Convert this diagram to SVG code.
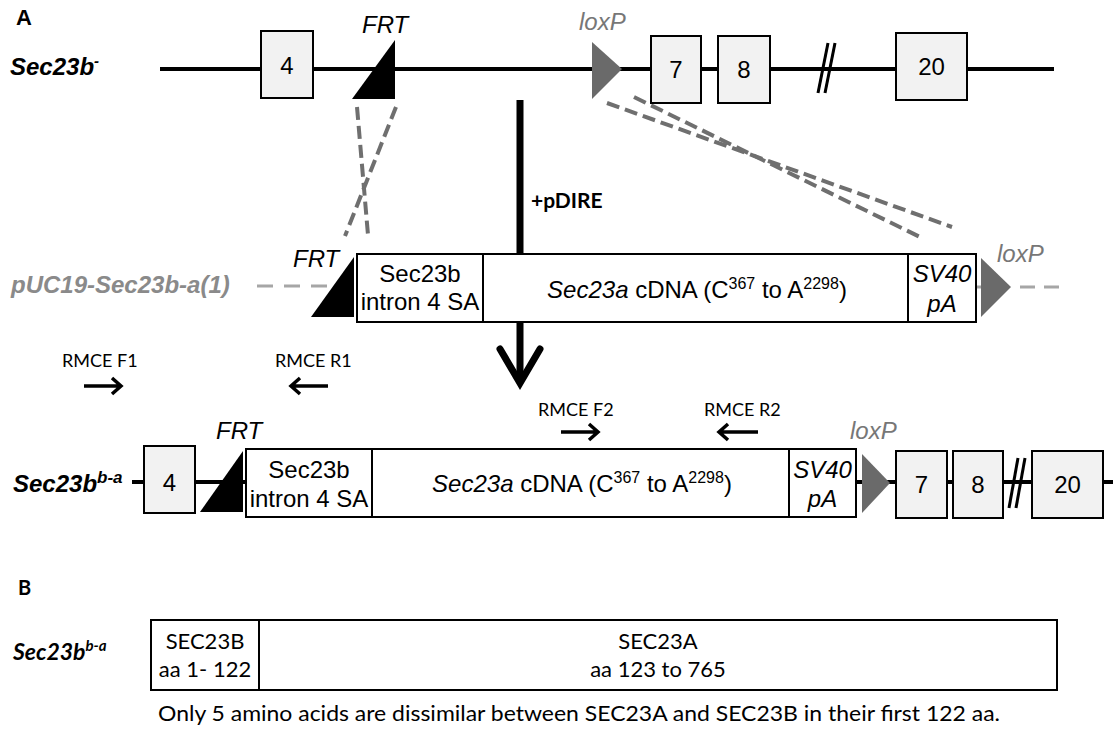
<svg xmlns="http://www.w3.org/2000/svg" width="1113" height="732" viewBox="0 0 1113 732">
<defs>
<style>
.ar{font-family:"Liberation Sans",Arial,sans-serif;fill:#000}
.cal{font-family:Lato,"Open Sans",sans-serif;fill:#000}
.exon{fill:#f2f2f2;stroke:#000;stroke-width:2}
.box{fill:#fff;stroke:#000;stroke-width:2}
.bb{stroke:#000;stroke-width:4;fill:none}
.dash{stroke:#6f6f6f;stroke-width:4;fill:none;stroke-dasharray:13 6}
.pdash{stroke:#a6a6a6;stroke-width:3;fill:none;stroke-dasharray:16 11}
.lox{fill:#6a6a6a}
.loxt{fill:#777;font-style:italic}
.prm{stroke:#000;stroke-width:3.5;fill:none;stroke-linecap:butt;stroke-linejoin:miter}
.t24{font-size:24px}
.lbl{font-size:24px;font-weight:bold;font-style:italic}
</style>
</defs>
<rect width="1113" height="732" fill="#fff"/>

<!-- backbones -->
<g id="backbones">
<line class="bb" x1="160" y1="69" x2="1054" y2="69"/>
<line class="pdash" x1="257" y1="286" x2="352" y2="286"/>
<line x1="976" y1="287" x2="982" y2="287" stroke="#a6a6a6" stroke-width="3"/>
<line class="pdash" x1="1020" y1="287" x2="1060" y2="287" style="stroke-dasharray:15 9"/>
<line class="bb" x1="132" y1="482" x2="1113" y2="482"/>
</g>

<!-- connectors -->
<g id="connectors">
<line class="dash" x1="357" y1="107" x2="368" y2="235"/>
<line class="dash" x1="396" y1="107" x2="345" y2="236"/>
<line class="dash" x1="607" y1="103" x2="952" y2="227"/>
<line class="dash" x1="634" y1="97" x2="920" y2="237"/>
<line x1="520" y1="100" x2="520" y2="380" stroke="#000" stroke-width="7"/>
<path d="M500,349 L520,383 L540,349" fill="none" stroke="#000" stroke-width="7" stroke-linecap="round" stroke-linejoin="miter"/>
<text class="cal" x="531" y="208" font-size="21" font-weight="bold">+pDIRE</text>
</g>

<!-- labels -->
<g id="labels">
<text class="ar" x="16" y="25" font-size="22" font-weight="bold">A</text>
<text class="ar lbl" x="10" y="75">Sec23b<tspan dy="-9" font-size="15">-</tspan></text>
<text class="ar lbl" x="11" y="293" fill="#8a8a8a" style="fill:#8a8a8a">pUC19-Sec23b-a(1)</text>
<text class="ar lbl" x="13" y="492">Sec23b<tspan dy="-9" font-size="17">b-a</tspan></text>
<text class="cal" x="18" y="595" font-size="20" font-weight="bold">B</text>
<text class="cal" x="13" y="660" font-size="23" font-weight="bold" font-style="italic">Sec23b<tspan dy="-9" font-size="15">b-a</tspan></text>
</g>

<!-- top allele -->
<g id="exon4-top"><rect class="exon" x="261" y="31" width="52" height="67"/><text class="ar t24" x="287" y="74" text-anchor="middle">4</text></g>
<g id="frt-top"><polygon points="395,40 395,99 352,99" fill="#000"/><text class="ar t24" x="362" y="33" font-style="italic">FRT</text></g>
<g id="loxp-top"><polygon class="lox" points="592,42 592,99 622,69"/><text class="ar t24 loxt" x="579" y="30">loxP</text></g>
<g id="exon7-top"><rect class="exon" x="651" y="36" width="50" height="67"/><text class="ar t24" x="676" y="78" text-anchor="middle">7</text></g>
<g id="exon8-top"><rect class="exon" x="718" y="36" width="52" height="67"/><text class="ar t24" x="744" y="78" text-anchor="middle">8</text></g>
<g id="break-top"><line x1="818" y1="93" x2="828" y2="43" stroke="#000" stroke-width="3"/><line x1="825" y1="93" x2="835" y2="43" stroke="#000" stroke-width="3"/></g>
<g id="exon20-top"><rect class="exon" x="896" y="33" width="71" height="67"/><text class="ar t24" x="931.5" y="75" text-anchor="middle">20</text></g>

<!-- pUC19 construct -->
<g id="frt-puc"><polygon points="354,257 354,317 311,317" fill="#000"/><text class="ar t24" x="293" y="267" font-style="italic">FRT</text></g>
<g id="sa-puc"><rect class="box" x="357" y="254" width="126" height="68"/><text class="ar t24" x="420" y="282" text-anchor="middle">Sec23b</text><text class="ar t24" x="420" y="310" text-anchor="middle">intron 4 SA</text></g>
<g id="cdna-puc"><rect class="box" x="483" y="254" width="425" height="68"/><text class="ar t24" x="697" y="298" text-anchor="middle"><tspan font-style="italic">Sec23a</tspan> cDNA (C<tspan dy="-9" font-size="16">367</tspan><tspan dy="9"> to A</tspan><tspan dy="-9" font-size="16">2298</tspan><tspan dy="9">)</tspan></text></g>
<g id="sv40-puc"><rect class="box" x="908" y="254" width="68" height="68"/><text class="ar t24" x="942" y="282" text-anchor="middle" font-style="italic">SV40</text><text class="ar t24" x="942" y="312" text-anchor="middle" font-style="italic">pA</text></g>
<g id="loxp-puc"><polygon class="lox" points="981,258 981,317 1011,287"/><text class="ar t24 loxt" x="997" y="262">loxP</text></g>

<!-- primers -->
<g id="primer-f1"><text class="cal" x="62" y="367" font-size="18">RMCE F1</text><path class="prm" d="M84,386 H121 M112,378 L121,386 L112,394"/></g>
<g id="primer-r1"><text class="cal" x="275" y="367" font-size="18">RMCE R1</text><path class="prm" d="M328,386 H291 M300,378 L291,386 L300,394"/></g>
<g id="primer-f2"><text class="cal" x="538" y="416" font-size="18">RMCE F2</text><path class="prm" d="M561,432 H598 M589,424 L598,432 L589,440"/></g>
<g id="primer-r2"><text class="cal" x="704" y="416" font-size="18">RMCE R2</text><path class="prm" d="M758,432 H719 M728,424 L719,432 L728,440"/></g>

<!-- recombined allele -->
<g id="exon4-ba"><rect class="exon" x="144" y="446" width="51" height="67"/><text class="ar t24" x="169.5" y="491" text-anchor="middle">4</text></g>
<g id="frt-ba"><polygon points="243,451 243,512 200,512" fill="#000"/><text class="ar t24" x="216" y="439" font-style="italic">FRT</text></g>
<g id="sa-ba"><rect class="box" x="246" y="449" width="126" height="68"/><text class="ar t24" x="309" y="478" text-anchor="middle">Sec23b</text><text class="ar t24" x="309" y="507" text-anchor="middle">intron 4 SA</text></g>
<g id="cdna-ba"><rect class="box" x="372" y="449" width="417" height="68"/><text class="ar t24" x="582" y="492" text-anchor="middle"><tspan font-style="italic">Sec23a</tspan> cDNA (C<tspan dy="-9" font-size="16">367</tspan><tspan dy="9"> to A</tspan><tspan dy="-9" font-size="16">2298</tspan><tspan dy="9">)</tspan></text></g>
<g id="sv40-ba"><rect class="box" x="789" y="449" width="67" height="68"/><text class="ar t24" x="822.5" y="478" text-anchor="middle" font-style="italic">SV40</text><text class="ar t24" x="822.5" y="507" text-anchor="middle" font-style="italic">pA</text></g>
<g id="loxp-ba"><polygon class="lox" points="862,454 862,513 890,483"/><text class="ar t24 loxt" x="850" y="439">loxP</text></g>
<g id="exon7-ba"><rect class="exon" x="896" y="451" width="51" height="67"/><text class="ar t24" x="921.5" y="493" text-anchor="middle">7</text></g>
<g id="exon8-ba"><rect class="exon" x="953" y="451" width="50" height="67"/><text class="ar t24" x="978" y="493" text-anchor="middle">8</text></g>
<g id="break-ba"><line x1="1009" y1="508" x2="1018" y2="458" stroke="#000" stroke-width="3"/><line x1="1016" y1="508" x2="1025" y2="458" stroke="#000" stroke-width="3"/></g>
<g id="exon20-ba"><rect class="exon" x="1032" y="451" width="71" height="67"/><text class="ar t24" x="1067.5" y="493" text-anchor="middle">20</text></g>

<!-- protein -->
<g id="protein-b"><rect class="box" x="151" y="620" width="108" height="70"/><text class="cal" x="205" y="649" font-size="22" text-anchor="middle">SEC23B</text><text class="cal" x="205" y="677" font-size="22" text-anchor="middle">aa 1- 122</text></g>
<g id="protein-a"><rect class="box" x="259" y="620" width="798" height="70"/><text class="cal" x="658" y="649" font-size="22" text-anchor="middle">SEC23A</text><text class="cal" x="658" y="677" font-size="22" text-anchor="middle">aa 123 to 765</text></g>
<g id="note"><text class="cal" x="158" y="721" font-size="22" textLength="842" lengthAdjust="spacingAndGlyphs">Only 5 amino acids are dissimilar between SEC23A and SEC23B in their first 122 aa.</text></g>
</svg>
